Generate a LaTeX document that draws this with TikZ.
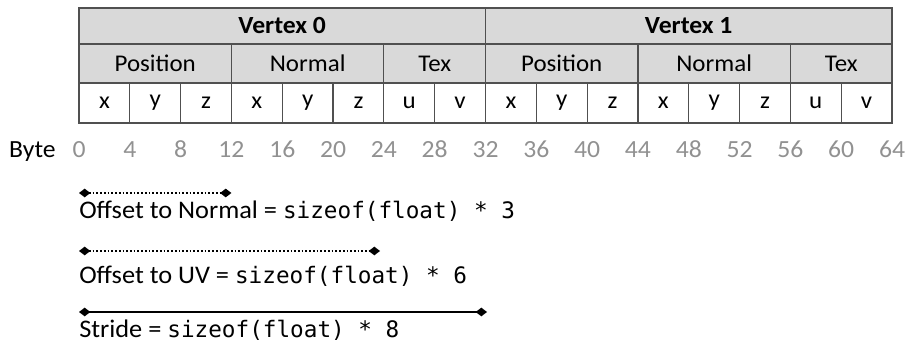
\documentclass[tikz,border=0pt]{standalone}
\usepackage{fontspec}
\setmainfont[FakeStretch=1.04]{Carlito}
\setmonofont{DejaVu Sans Mono}
\usetikzlibrary{arrows.meta}
\definecolor{cellfill}{RGB}{217,217,217}
\definecolor{cellline}{RGB}{80,80,80}
\definecolor{bytegray}{RGB}{145,145,145}

\begin{document}
\begin{tikzpicture}[x=0.75pt,y=0.75pt,yscale=-1,xscale=1,
  cell/.style={draw=cellline,line width=0.9pt,inner sep=0pt,minimum width=38.11pt},
  head/.style={cell,fill=cellfill,minimum height=27pt,font=\fontsize{18.5}{20}\selectfont\bfseries},
  attr/.style={cell,fill=cellfill,minimum height=29.25pt,font=\fontsize{18}{20}\selectfont},
  comp/.style={cell,fill=white,minimum height=30pt,font=\fontsize{18}{20}\selectfont},
  num/.style={inner sep=0pt,text=bytegray,font=\fontsize{18.5}{20}\selectfont},
  note/.style={inner sep=0pt,anchor=base west,font=\fontsize{19}{20}\selectfont},
  span/.style={{Diamond[width=6.5pt,length=8.5pt]}-{Diamond[width=6.5pt,length=8.5pt]}},
  dotline/.style={span,line width=1.3pt,dash pattern=on 1.3pt off 1.5pt},
  fullline/.style={span,line width=1.6pt}]
\useasboundingbox (0,0) rectangle (906,348);

% Vertex row
\foreach \v in {0,1}
  \node[head,minimum width=304.88pt] (vert\v) at ({79+203.25+\v*406.5},26) {Vertex \v};

% Attribute row
\foreach \v in {0,1} {
  \node[attr,minimum width=114.33pt] (pos\v) at ({79+76.22+\v*406.5},63.5) {Position};
  \node[attr,minimum width=114.33pt] (nrm\v) at ({79+228.66+\v*406.5},63.5) {Normal};
  \node[attr,minimum width=76.22pt] (tex\v) at ({79+355.69+\v*406.5},63.5) {Tex};
}

% Component row
\foreach \c [count=\i from 0] in {x,y,z,x,y,z,u,v,x,y,z,x,y,z,u,v}
  \node[comp] (comp\i) at ({79+(\i+0.5)*50.8125},103) {\c};

% Byte offsets
\node[inner sep=0pt,anchor=base east,font=\fontsize{18.5}{20}\selectfont] (byte) at (56,157.5) {Byte};
\foreach \i [evaluate=\i as \n using {int(4*\i)}] in {0,...,16}
  \node[num,anchor=base] (b\i) at ({79+\i*50.8125},157.5) {\n};

% Offset to Normal
\coordinate (nrmA) at (79,193);
\coordinate (nrmB) at (231.4,193);
\draw[dotline] (nrmA) -- (nrmB);
\node[note] (nrmtxt) at (79,219) {Offset to Normal = \texttt{\fontsize{17}{20}\selectfont sizeof(float) * 3}};

% Offset to UV
\coordinate (uvA) at (79,251);
\coordinate (uvB) at (380,251);
\draw[dotline] (uvA) -- (uvB);
\node[note] (uvtxt) at (79,284) {Offset to UV = \texttt{\fontsize{17}{20}\selectfont sizeof(float) * 6}};

% Stride
\coordinate (strA) at (79,312);
\coordinate (strB) at (487,312);
\draw[fullline] (strA) -- (strB);
\node[note] (strtxt) at (79,338) {Stride = \texttt{\fontsize{17}{20}\selectfont sizeof(float) * 8}};

\end{tikzpicture}
\end{document}
